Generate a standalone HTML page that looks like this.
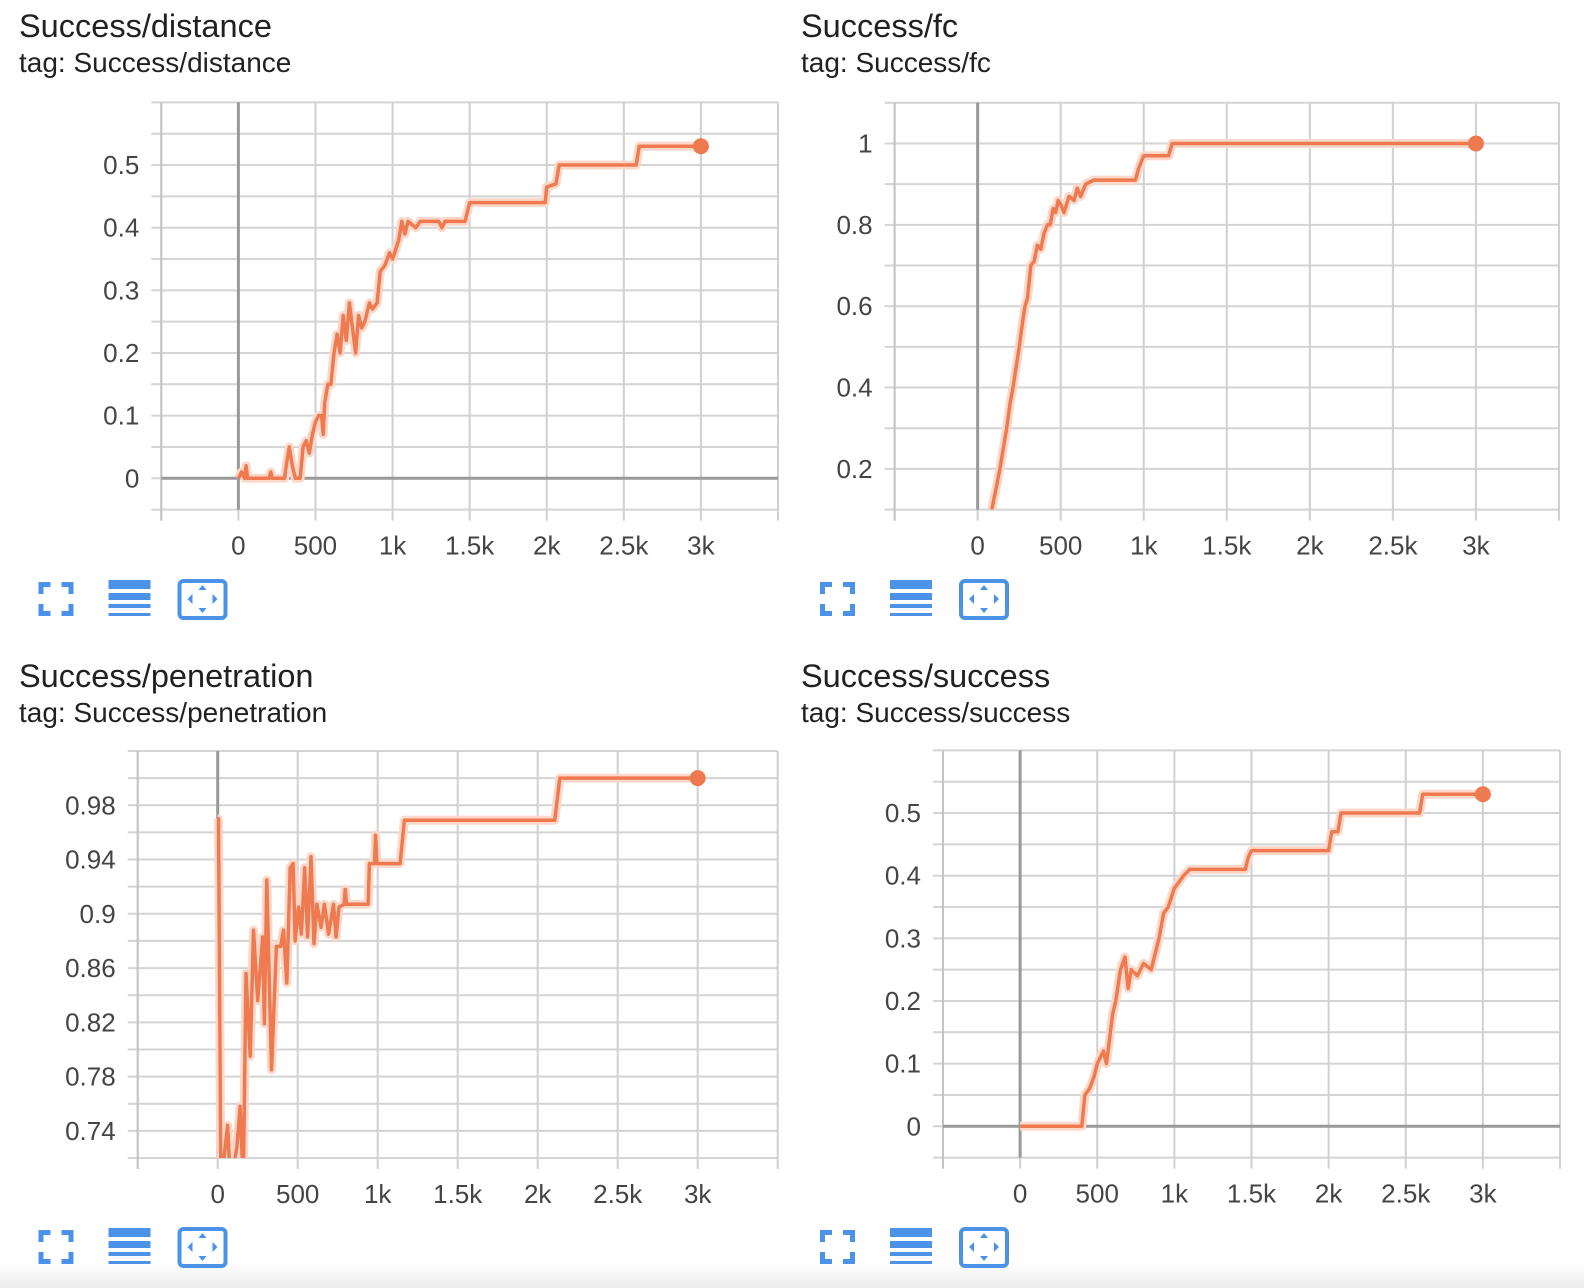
<!DOCTYPE html>
<html><head><meta charset="utf-8">
<style>
html,body{margin:0;padding:0;background:#fff;}
body{width:1584px;height:1288px;position:relative;overflow:hidden;font-family:"Liberation Sans",sans-serif;}
.title{position:absolute;font-size:32.5px;color:#212121;white-space:nowrap;}
.tag{position:absolute;font-size:28px;color:#212121;white-space:nowrap;}
svg{position:absolute;left:0;top:0;}
.fade{position:absolute;left:0;top:1262px;width:1584px;height:26px;background:linear-gradient(#fff,#ececec);}
</style></head>
<body>
<div class="title" style="left:19px;top:8px">Success/distance</div>
<div class="tag" style="left:19px;top:47px">tag: Success/distance</div>
<div class="title" style="left:801px;top:8px">Success/fc</div>
<div class="tag" style="left:801px;top:47px">tag: Success/fc</div>
<div class="title" style="left:19px;top:658px">Success/penetration</div>
<div class="tag" style="left:19px;top:697px">tag: Success/penetration</div>
<div class="title" style="left:801px;top:658px">Success/success</div>
<div class="tag" style="left:801px;top:697px">tag: Success/success</div>
<div class="fade"></div>
<svg id="svg" width="1584" height="1288" xmlns="http://www.w3.org/2000/svg"></svg>
<script>
const xTickValues = [0,500,1000,1500,2000,2500,3000];
const xTickLabels = ["0","500","1k","1.5k","2k","2.5k","3k"];

const distSteps = [0,20,40,50,60,100,200,210,220,300,310,330,350,370,400,420,440,460,480,500,520,540,550,560,580,600,620,640,660,680,700,720,740,760,780,800,820,850,870,900,920,950,980,1000,1040,1060,1080,1100,1150,1180,1200,1300,1320,1340,1470,1490,1500,1990,2000,2060,2080,2580,2600,3000];
const distValues = [0,0.01,0,0.02,0,0,0,0.01,0,0,0.02,0.05,0.02,0,0,0.05,0.06,0.04,0.07,0.09,0.1,0.1,0.07,0.12,0.15,0.15,0.2,0.23,0.2,0.26,0.22,0.28,0.24,0.2,0.26,0.24,0.25,0.28,0.27,0.28,0.33,0.34,0.36,0.35,0.38,0.41,0.39,0.41,0.40,0.41,0.41,0.41,0.40,0.41,0.41,0.43,0.44,0.44,0.465,0.47,0.5,0.5,0.53,0.53];
const distYTicks = [0,0.1,0.2,0.3,0.4,0.5];
const distYLabels = ["0","0.1","0.2","0.3","0.4","0.5"];

const fcSteps = [85,110,134,150,175,195,213,235,250,270,285,300,320,340,360,380,400,420,437,455,470,485,500,520,550,580,600,620,650,700,950,970,1000,1150,1170,3000];
const fcValues = [0.1,0.15,0.2,0.24,0.3,0.36,0.4,0.46,0.5,0.56,0.6,0.62,0.7,0.71,0.75,0.74,0.78,0.8,0.8,0.84,0.83,0.86,0.85,0.83,0.87,0.86,0.89,0.87,0.9,0.91,0.91,0.94,0.97,0.97,1.0,1.0];
const fcYTicks = [0.2,0.4,0.6,0.8,1];
const fcYLabels = ["0.2","0.4","0.6","0.8","1"];

const penSteps = [0,5,20,62,80,120,140,160,177,203,224,250,281,292,307,336,367,393,411,432,453,471,484,505,523,544,562,583,602,620,646,667,693,724,740,758,790,797,805,940,948,980,987,995,1140,1167,2107,2138,3000];
const penValues = [0.97,0.97,0.70,0.744,0.70,0.728,0.758,0.70,0.856,0.795,0.888,0.836,0.883,0.819,0.925,0.785,0.876,0.876,0.888,0.849,0.934,0.937,0.880,0.905,0.885,0.934,0.883,0.942,0.878,0.907,0.890,0.907,0.885,0.907,0.883,0.905,0.907,0.918,0.907,0.907,0.937,0.937,0.958,0.937,0.937,0.969,0.969,1.0,1.0];
const penYTicks = [0.74,0.78,0.82,0.86,0.9,0.94,0.98];
const penYLabels = ["0.74","0.78","0.82","0.86","0.9","0.94","0.98"];

const sucSteps = [0,400,420,450,480,500,540,560,600,620,650,680,700,720,760,800,850,900,930,960,1000,1030,1060,1100,1200,1300,1460,1480,1500,2000,2020,2060,2080,2590,2610,3000];
const sucValues = [0,0,0.05,0.06,0.08,0.1,0.12,0.1,0.18,0.2,0.25,0.27,0.22,0.25,0.24,0.26,0.25,0.3,0.34,0.35,0.38,0.39,0.4,0.41,0.41,0.41,0.41,0.43,0.44,0.44,0.47,0.47,0.5,0.5,0.53,0.53];
const sucYTicks = [0,0.1,0.2,0.3,0.4,0.5];
const sucYLabels = ["0","0.1","0.2","0.3","0.4","0.5"];

const NS = "http://www.w3.org/2000/svg";
const svg = document.getElementById('svg');
function mk(tag, attrs, parent){const e=document.createElementNS(NS,tag);for(const k in attrs)e.setAttribute(k,attrs[k]);(parent||svg).appendChild(e);return e;}

function drawChart(id, L, R, T, B, ymin, ymax, gridStep, steps, values, yTicks, yLabels, iconX, iconY){
  const xmin=-500,xmax=3500;
  const sx=v=>L+(v-xmin)/(xmax-xmin)*(R-L);
  const sy=v=>B-(v-ymin)/(ymax-ymin)*(B-T);
  const g=mk('g',{});
  
  
  const n=Math.round((ymax-ymin)/gridStep);
  for(let i=0;i<=n;i++){const y=sy(ymin+i*gridStep);
    const l=mk('line',{x1:L-10,x2:R,y1:y,y2:y,stroke:'#d4d4d4','stroke-width':2},g);
    
    }
  for(let v=xmin;v<=xmax;v+=500){const x=sx(v);
    const l=mk('line',{x1:x,x2:x,y1:T,y2:B+11,stroke:'#d0d0d0','stroke-width':2},g);
    
    }
  mk('line',{x1:L,x2:L,y1:T,y2:B+11,stroke:'#c4c4c4','stroke-width':2},g);
  const zx=sx(0);
  const za=mk('line',{x1:zx,x2:zx,y1:T,y2:B,stroke:'#999','stroke-width':3},g);
  
  
  if(ymin<0&&ymax>0){const y0=sy(0);
    const zl=mk('line',{x1:L,x2:R,y1:y0,y2:y0,stroke:'#999','stroke-width':3},g);
    
    }
  yTicks.forEach((v,i)=>{const t=mk('text',{x:L-22,y:sy(v)+9,'text-anchor':'end','font-size':26,fill:'#444','font-family':'Liberation Sans, sans-serif'},g);t.textContent=yLabels[i];
    
    });
  xTickValues.forEach((v,i)=>{const t=mk('text',{x:sx(v),y:B+45,'text-anchor':'middle','font-size':26,fill:'#444','font-family':'Liberation Sans, sans-serif'},g);t.textContent=xTickLabels[i];
    
    });
  const cp=mk('clipPath',{id:'clip-'+id},g);mk('rect',{x:L,y:T,width:R-L,height:B-T},cp);
  const d=steps.map((s,i)=>(i?'L':'M')+sx(s).toFixed(1)+','+sy(values[i]).toFixed(1)).join(' ');
  const band=mk('path',{d:d,fill:'none',stroke:'#fbd8ca','stroke-width':9,'stroke-linejoin':'round','clip-path':'url(#clip-'+id+')'},g);
  
  
  const line=mk('path',{d:d,fill:'none',stroke:'#ef7a4f','stroke-width':3.5,'stroke-linejoin':'round','clip-path':'url(#clip-'+id+')'},g);
  
  
  const last=steps.length-1;
  const dot=mk('circle',{cx:sx(steps[last]),cy:sy(values[last]),r:8,fill:'#ef7a4f'},g);
  
  
  const ix=iconX;
  const ig=mk('g',{fill:'#4a93e8'},g);
  
  
  const fs=mk('g',{},ig);
  
  
  const a=ix, c=iconY;
  [[a,c-17,12,5],[a,c-17,5,12],[a+23,c-17,12,5],[a+30,c-17,5,12],[a,c+12,12,5],[a,c+5,5,12],[a+23,c+12,12,5],[a+30,c+5,5,12]].forEach(r=>mk('rect',{x:r[0],y:r[1],width:r[2],height:r[3]},fs));
  const ls=mk('g',{},ig);
  
  
  [[c-19,9],[c-6,7],[c+5,4],[c+14,3]].forEach(r=>mk('rect',{x:ix+70,y:r[0],width:42,height:r[1]},ls));
  const fb=mk('g',{},ig);
  
  
  mk('rect',{x:ix+141,y:c-18,width:46,height:37,rx:4,fill:'none',stroke:'#4a93e8','stroke-width':4},fb);
  const cx=ix+164;
  mk('path',{d:`M${cx-4},${c-9}L${cx+4},${c-9}L${cx},${c-14}Z M${cx-4},${c+9}L${cx+4},${c+9}L${cx},${c+14}Z M${cx-15},${c}L${cx-10},${c-5}L${cx-10},${c+5}Z M${cx+15},${c}L${cx+10},${c-5}L${cx+10},${c+5}Z`},fb);
}
drawChart('distance',161.3,778,102.4,509.6,-0.05,0.6,0.05,distSteps,distValues,distYTicks,distYLabels,38.5,599);
drawChart('fc',894.6,1559,102.8,509.6,0.1,1.1,0.1,fcSteps,fcValues,fcYTicks,fcYLabels,820,599);
drawChart('penetration',137.7,777.7,751,1158,0.72,1.02,0.02,penSteps,penValues,penYTicks,penYLabels,38.5,1247);
drawChart('success',943,1560,750.4,1157.6,-0.05,0.6,0.05,sucSteps,sucValues,sucYTicks,sucYLabels,820,1247);
</script>
</body></html>
